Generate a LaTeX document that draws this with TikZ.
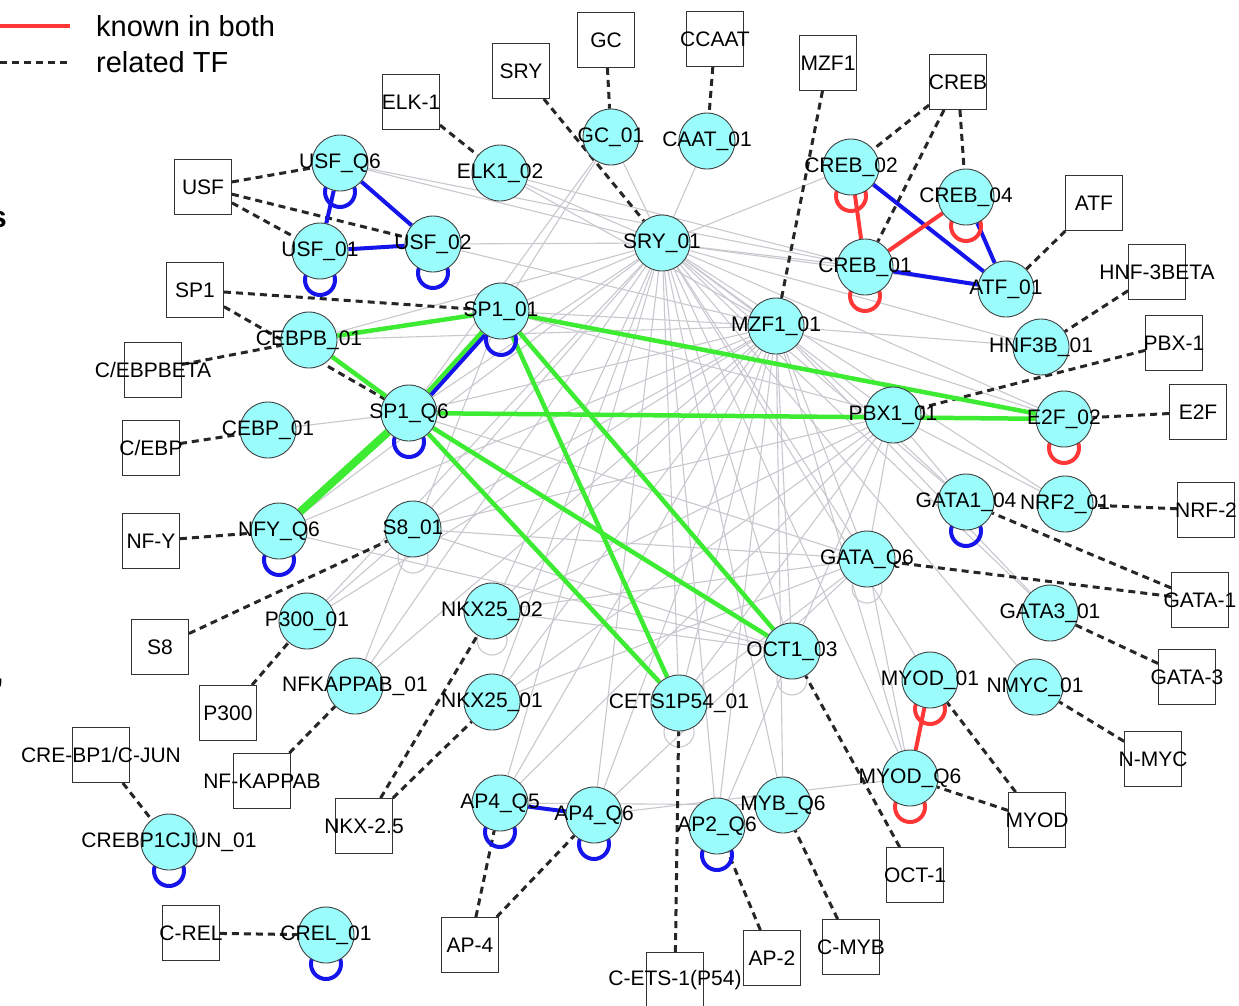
\documentclass[tikz,border=0pt]{standalone}
\usepackage{fontspec}
\setmainfont{Liberation Sans}
\usetikzlibrary{backgrounds}
\definecolor{tfcyan}{RGB}{155,252,252}
\definecolor{grn}{RGB}{60,235,50}
\definecolor{blu}{RGB}{20,20,235}
\definecolor{rd}{RGB}{255,55,55}
\definecolor{gry}{RGB}{200,200,206}
\tikzset{
 tf/.style={circle,draw=black!75,fill=tfcyan,minimum size=56pt,inner sep=0pt,line width=0.9pt},
 tfbox/.style={rectangle,draw=black!80,fill=white,minimum width=57pt,minimum height=55pt,inner sep=0pt,line width=0.9pt},
 lbl/.style={font=\fontsize{21}{21}\selectfont,inner sep=0pt,text=black},
 gedge/.style={draw=gry,line width=1.1pt},
 rel/.style={draw=black!85,line width=3pt,dash pattern=on 7pt off 5pt},
 gl/.style={draw=grn,line width=4.5pt},
 bl/.style={draw=blu,line width=4pt},
 rl/.style={draw=rd,line width=4pt},
 gloop/.style={draw=gry,line width=1.1pt},
 legtext/.style={font=\fontsize{29}{29}\selectfont,inner sep=0pt,anchor=west}
}
\newcommand\mkcirc[4]{\node[tf,label={[lbl]center:#4}] (#1) at (#2,#3) {};}
\newcommand\mkbox[4]{\node[tfbox,label={[lbl]center:#4}] (#1) at (#2,#3) {};}
\newcommand\mkloop[2]{\draw[#2] (#1.center) ++(0,29) circle[radius=15pt];}
\begin{document}
\begin{tikzpicture}[x=1pt,y=-1pt]
\useasboundingbox (0,0) rectangle (1239,1005);

% legend
\coordinate (la) at (0,26); \coordinate (lb) at (70,26);
\coordinate (lc) at (0,62); \coordinate (ld) at (70,62);
\draw[rl] (la) -- (lb);
\draw[rel] (lc) -- (ld);
\node[legtext] (lk) at (96,26) {known in both};
\node[legtext] (lr) at (96,62) {related TF};
\node[font=\bfseries\fontsize{30}{30}\selectfont,anchor=base west,inner sep=0pt] (cuts) at (-10,227) {s};
\node[font=\bfseries\fontsize{30}{30}\selectfont,anchor=base west,inner sep=0pt] (cutc) at (-5,683) {,};

% boxes
\mkbox{bELK}{411}{102}{ELK-1}
\mkbox{bUSF}{203}{187}{USF}
\mkbox{bSP1}{195}{290}{SP1}
\mkbox{bSRY}{521}{71}{SRY}
\mkbox{bGC}{606}{40}{GC}
\mkbox{bCCAAT}{715}{39}{CCAAT}
\mkbox{bMZF}{828}{63}{MZF1}
\mkbox{bCREB}{958}{82}{CREB}
\mkbox{bATF}{1094}{203}{ATF}
\mkbox{bHNF}{1157}{272}{HNF-3BETA}
\mkbox{bPBX}{1174}{343}{PBX-1}
\mkbox{bE2F}{1198}{412}{E2F}
\mkbox{bNRF}{1206}{510}{NRF-2}
\mkbox{bGATA1}{1200}{600}{GATA-1}
\mkbox{bGATA3}{1187}{677}{GATA-3}
\mkbox{bNMYC}{1153}{759}{N-MYC}
\mkbox{bMYOD}{1037}{820}{MYOD}
\mkbox{bOCT}{915}{875}{OCT-1}
\mkbox{bCMYB}{851}{947}{C-MYB}
\mkbox{bAP2}{772}{958}{AP-2}
\mkbox{bCETS}{675}{980}{C-ETS-1(P54)}
\mkbox{bAP4}{470}{945}{AP-4}
\mkbox{bNKX}{364}{826}{NKX-2.5}
\mkbox{bNFKB}{262}{781}{NF-KAPPAB}
\mkbox{bP300}{228}{713}{P300}
\mkbox{bCREJUN}{101}{755}{CRE-BP1/C-JUN}
\mkbox{bCREL}{191}{933}{C-REL}
\mkbox{bS8}{160}{647}{S8}
\mkbox{bNFY}{151}{541}{NF-Y}
\mkbox{bCEBP}{151}{448}{C/EBP}
\mkbox{bCEBPB}{153}{370}{C/EBPBETA}

% TF circles
\mkcirc{usfq6}{340}{163}{USF\_Q6}
\mkcirc{usf01}{320}{251}{USF\_01}
\mkcirc{usf02}{433}{244}{USF\_02}
\mkcirc{elk1}{500}{173}{ELK1\_02}
\mkcirc{gc01}{611}{137}{GC\_01}
\mkcirc{caat}{707}{141}{CAAT\_01}
\mkcirc{sry}{662}{243}{SRY\_01}
\mkcirc{mzf}{776}{326}{MZF1\_01}
\mkcirc{creb02}{851}{167}{CREB\_02}
\mkcirc{creb04}{966}{197}{CREB\_04}
\mkcirc{creb01}{865}{267}{CREB\_01}
\mkcirc{atf01}{1006}{289}{ATF\_01}
\mkcirc{hnf3b}{1041}{347}{HNF3B\_01}
\mkcirc{pbx1}{893}{415}{PBX1\_01}
\mkcirc{e2f}{1064}{419}{E2F\_02}
\mkcirc{gata104}{966}{502}{GATA1\_04}
\mkcirc{nrf2}{1065}{504}{NRF2\_01}
\mkcirc{gataq6}{867}{559}{GATA\_Q6}
\mkcirc{gata301}{1050}{613}{GATA3\_01}
\mkcirc{oct1}{792}{651}{OCT1\_03}
\mkcirc{cets}{679}{703}{CETS1P54\_01}
\mkcirc{myod01}{930}{680}{MYOD\_01}
\mkcirc{nmyc}{1035}{687}{NMYC\_01}
\mkcirc{myodq6}{910}{778}{MYOD\_Q6}
\mkcirc{ap2q6}{717}{826}{AP2\_Q6}
\mkcirc{mybq6}{783}{805}{MYB\_Q6}
\mkcirc{ap4q6}{594}{815}{AP4\_Q6}
\mkcirc{ap4q5}{500}{803}{AP4\_Q5}
\mkcirc{nkx01}{492}{702}{NKX25\_01}
\mkcirc{nkx02}{492}{611}{NKX25\_02}
\mkcirc{nfkb}{355}{686}{NFKAPPAB\_01}
\mkcirc{p300n}{307}{621}{P300\_01}
\mkcirc{s801}{413}{529}{S8\_01}
\mkcirc{nfyq6}{279}{531}{NFY\_Q6}
\mkcirc{cebp01}{268}{430}{CEBP\_01}
\mkcirc{sp1q6}{409}{413}{SP1\_Q6}
\mkcirc{sp101}{501}{311}{SP1\_01}
\mkcirc{cebpb}{309}{340}{CEBPB\_01}
\mkcirc{crebjun}{169}{842}{CREBP1CJUN\_01}
\mkcirc{crel}{326}{935}{CREL\_01}

\begin{scope}[on background layer]
% gray predicted edges
\foreach \t in {elk1,usf02,usfq6,gc01,caat,sp101,sp1q6,cebpb,s801,nfyq6,p300n,nfkb,nkx02,nkx01,ap4q5,ap4q6,cets,ap2q6,mybq6,oct1,myodq6,myod01,gataq6,gata301,gata104,nrf2,e2f,pbx1,hnf3b,creb01,creb02,mzf,atf01,nmyc}
  \draw[gedge] (sry) -- (\t);
\foreach \t in {sp1q6,s801,nfyq6,nkx02,nkx01,cets,ap4q6,ap2q6,mybq6,oct1,gataq6,myodq6,e2f,hnf3b,p300n,nfkb,cebpb,usf02,elk1,sp101,gata104,gata301,ap4q5}
  \draw[gedge] (mzf) -- (\t);
\foreach \t in {s801,nkx02,cets,ap4q5,gataq6,sp101,gata104,oct1,nkx01,nrf2}
  \draw[gedge] (pbx1) -- (\t);
\foreach \t in {s801,nkx02,nkx01,cets,sp1q6,ap4q6,myodq6}
  \draw[gedge] (gataq6) -- (\t);
\foreach \t in {nkx02,s801,nfyq6,ap2q6,sp101}
  \draw[gedge] (oct1) -- (\t);
\draw[gedge] (gc01) -- (sp101);
\draw[gedge] (gc01) -- (sp1q6);
\draw[gedge] (cebp01) -- (sp1q6);
\draw[gedge] (sp101) -- (nfkb);
\draw[gedge] (s801) -- (p300n);
\draw[gedge] (ap4q5) -- (mybq6);
\draw[gedge] (ap4q6) -- (myodq6);
\draw[gedge] (elk1) -- (creb01);
\draw[gedge] (usfq6) -- (creb01);
\draw[gedge] (sp1q6) -- (nfyq6);
\mkloop{s801}{gloop}
\mkloop{nkx02}{gloop}
\mkloop{cets}{gloop}
\mkloop{oct1}{gloop}
\mkloop{gataq6}{gloop}

% related TF (dashed)
\draw[rel] (bUSF) -- (usfq6);
\draw[rel] (bUSF) -- (usf01);
\draw[rel] (bUSF) -- (usf02);
\draw[rel] (bELK) -- (elk1);
\draw[rel] (bSRY) -- (sry);
\draw[rel] (bGC) -- (gc01);
\draw[rel] (bCCAAT) -- (caat);
\draw[rel] (bMZF) -- (mzf);
\draw[rel] (bCREB) -- (creb02);
\draw[rel] (bCREB) -- (creb01);
\draw[rel] (bCREB) -- (creb04);
\draw[rel] (bATF) -- (atf01);
\draw[rel] (bHNF) -- (hnf3b);
\draw[rel] (bPBX) -- (pbx1);
\draw[rel] (bE2F) -- (e2f);
\draw[rel] (bNRF) -- (nrf2);
\draw[rel] (bGATA1) -- (gata104);
\draw[rel] (bGATA1) -- (gataq6);
\draw[rel] (bGATA3) -- (gata301);
\draw[rel] (bNMYC) -- (nmyc);
\draw[rel] (bMYOD) -- (myod01);
\draw[rel] (bMYOD) -- (myodq6);
\draw[rel] (bOCT) -- (oct1);
\draw[rel] (bCMYB) -- (mybq6);
\draw[rel] (bAP2) -- (ap2q6);
\draw[rel] (bCETS) -- (cets);
\draw[rel] (bAP4) -- (ap4q5);
\draw[rel] (bAP4) -- (ap4q6);
\draw[rel] (bNKX) -- (nkx02);
\draw[rel] (bNKX) -- (nkx01);
\draw[rel] (bNFKB) -- (nfkb);
\draw[rel] (bP300) -- (p300n);
\draw[rel] (bCREJUN) -- (crebjun);
\draw[rel] (bCREL) -- (crel);
\draw[rel] (bS8) -- (s801);
\draw[rel] (bNFY) -- (nfyq6);
\draw[rel] (bCEBP) -- (cebp01);
\draw[rel] (bCEBPB) -- (cebpb);
\draw[rel] (bSP1) -- (sp101);
\draw[rel] (bSP1) -- (sp1q6);

% green
\draw[gl] (cebpb) -- (sp101);
\draw[gl] (cebpb) -- (sp1q6);
\draw[gl,line width=8pt] (nfyq6) -- (sp1q6);
\draw[gl] (sp101) -- (sp1q6);
\draw[gl] (sp101) -- (e2f);
\draw[gl] (sp1q6) -- (e2f);
\draw[gl] (sp101) -- (cets);
\draw[gl] (sp101) -- (oct1);
\draw[gl] (sp1q6) -- (cets);
\draw[gl] (sp1q6) -- (oct1);

% blue
\draw[bl] (usfq6) -- (usf01);
\draw[bl] (usfq6) -- (usf02);
\draw[bl] (usf01) -- (usf02);
\draw[bl,transform canvas={shift={(3pt,-3pt)}}] (sp101) -- (sp1q6);
\draw[bl] (creb02) -- (atf01);
\draw[bl] (creb01) -- (atf01);
\draw[bl] (creb04) -- (atf01);
\draw[bl] (ap4q5) -- (ap4q6);

% red
\draw[rl] (creb02) -- (creb01);
\draw[rl] (creb01) -- (creb04);
\draw[rl] (myod01) -- (myodq6);

% loops
\foreach \n in {usfq6,usf01,usf02,sp101,sp1q6,nfyq6,gata104,crebjun,crel,ap4q5,ap4q6,ap2q6}
  \mkloop{\n}{bl};
\foreach \n in {creb02,creb04,creb01,e2f,myod01,myodq6}
  \mkloop{\n}{rl};
\end{scope}
\end{tikzpicture}
\end{document}
